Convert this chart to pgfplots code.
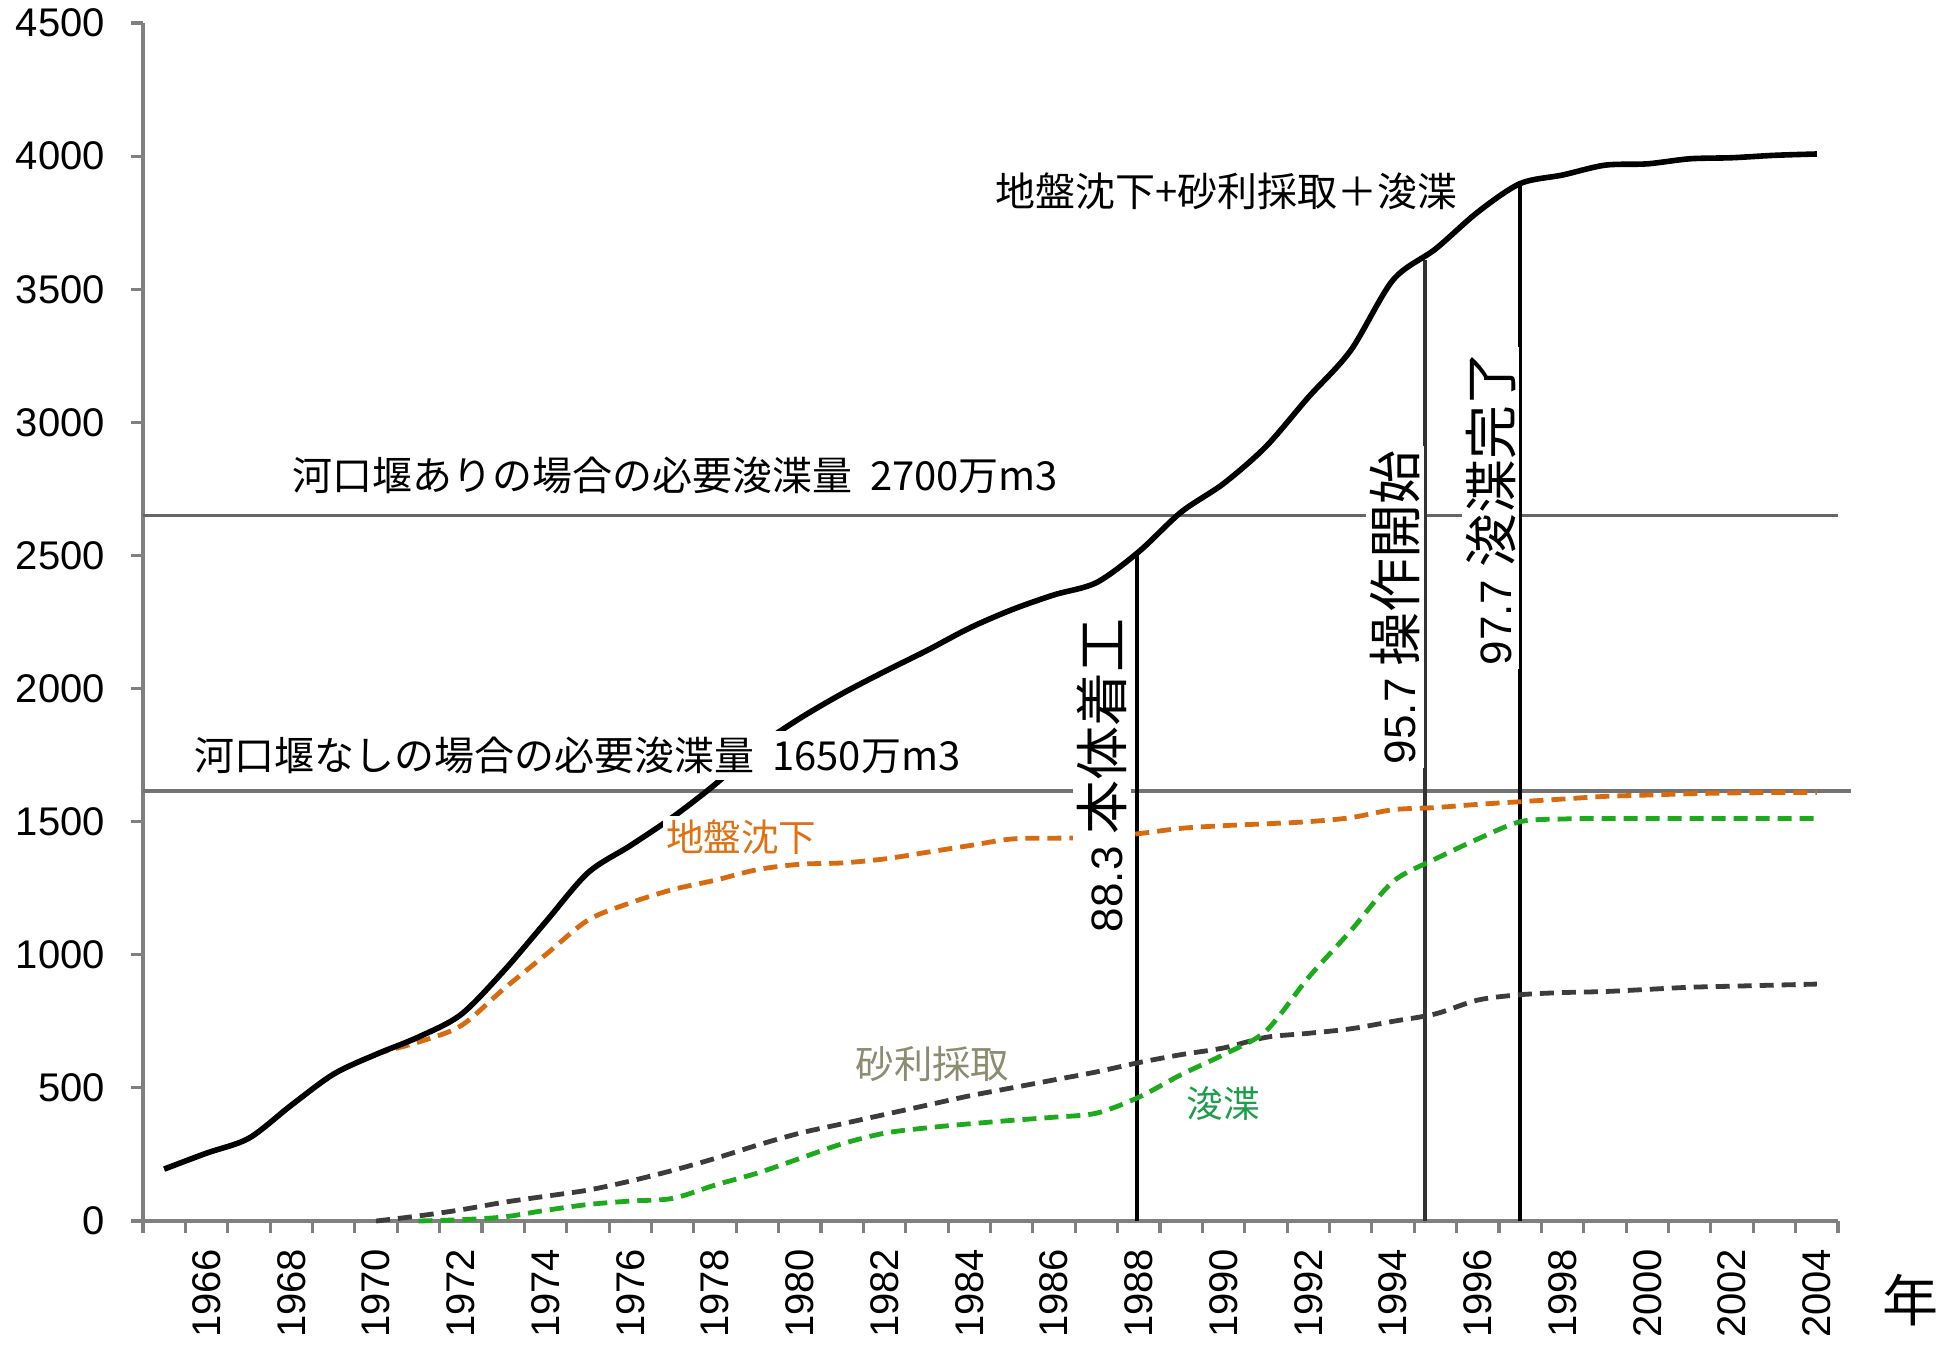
\documentclass[border=0pt]{standalone}
\usepackage{fontspec}
\setmainfont{Liberation Sans}
\newfontfamily\jp{Noto Sans CJK JP}
\usepackage{pgfplots}
\pgfplotsset{compat=1.18}
\usepackage{pgfplotstable}

\definecolor{subs}{HTML}{D86A10}
\definecolor{grav}{HTML}{3C3C3C}
\definecolor{dredg}{HTML}{1DAA1D}
\definecolor{subslab}{HTML}{E07010}
\definecolor{gravlab}{HTML}{8C8C70}
\definecolor{dredlab}{HTML}{1E9E4A}

% total: subsidence + gravel + dredging
\pgfplotstableread{
year total
1965 195
1966 255
1967 311
1968 435
1969 552
1970 626
1971 691
1972 775
1973 937
1974 1123
1975 1308
1976 1410
1977 1517
1978 1640
1979 1780
1980 1888
1981 1981
1982 2064
1983 2143
1984 2227
1985 2296
1986 2352
1987 2398
1988 2514
1989 2663
1990 2770
1991 2909
1992 3094
1993 3270
1994 3535
1995 3651
1996 3790
1997 3897
1998 3929
1999 3966
2000 3971
2001 3990
2002 3994
2003 4003
2004 4008
}\totaltab

\pgfplotstableread{
year subs
1965 195
1966 255
1967 311
1968 435
1969 552
1970 626
1971 672
1972 733
1973 870
1974 1000
1975 1130
1976 1195
1977 1245
1978 1280
1979 1320
1980 1340
1981 1345
1982 1360
1983 1385
1984 1410
1985 1435
1986 1438
1987 1440
1988 1455
1989 1475
1990 1485
1991 1492
1992 1500
1993 1515
1994 1545
1995 1553
1996 1565
1997 1575
1998 1585
1999 1595
2000 1600
2001 1605
2002 1608
2003 1610
2004 1610
}\substab

\pgfplotstableread{
year grav
1970 0
1971 19
1972 42
1973 70
1974 93
1975 116
1976 150
1977 190
1978 235
1979 285
1980 330
1981 365
1982 400
1983 435
1984 470
1985 500
1986 530
1987 560
1988 595
1989 625
1990 650
1991 690
1992 705
1993 722
1994 750
1995 778
1996 830
1997 850
1998 858
1999 862
2000 870
2001 878
2002 882
2003 886
2004 890
}\gravtab

\pgfplotstableread{
year dred
1971 0
1972 5
1973 15
1974 40
1975 62
1976 75
1977 85
1978 135
1979 180
1980 235
1981 290
1982 330
1983 350
1984 365
1985 378
1986 390
1987 405
1988 465
1989 550
1990 625
1991 714
1992 914
1993 1090
1994 1275
1995 1360
1996 1435
1997 1500
1998 1510
1999 1512
2000 1512
2001 1512
2002 1512
2003 1512
2004 1512
}\dredtab

\begin{document}
\begin{tikzpicture}
\begin{axis}[
  scale only axis, width=423.75pt, height=299.5pt,
  at={(0,0)}, anchor=south west,
  xmin=1964.5, xmax=2004.5, ymin=0, ymax=4500,
  clip=false,
  axis lines=left,
  axis line style={-, draw=black!50, line width=0.9pt},
  xtick={1966,1968,...,2004},
  minor xtick={1964.5,1965.5,...,2004.5},
  ytick={0,500,...,4500},
  minor ytick={0,500,...,4500},
  major tick length=0pt, minor tick length=3pt,
  tick align=outside,
  minor tick style={draw=black!50, line width=0.8pt},
  /pgf/number format/assume math mode=true,
  /pgf/number format/1000 sep={},
  tick label style={font=\fontsize{10}{10}\selectfont},
  xticklabel style={rotate=90, anchor=east, xshift=-3.4pt},
  yticklabel style={xshift=-6pt},
]
% reference levels
\addplot[black!60, line width=0.8pt] coordinates {(1964.5,2650) (2004.5,2650)};
\addplot[black!55, line width=1.1pt] coordinates {(1964.5,1615) (2004.8,1615)};
% milestones
\addplot[black, line width=0.9pt] coordinates {(1987.95,0) (1987.95,2514)};
\addplot[black!80, line width=0.9pt] coordinates {(1994.75,0) (1994.75,3610)};
\addplot[black, line width=0.9pt] coordinates {(1997.0,0) (1997.0,3897)};

\addplot[subs, line width=1.2pt, dash pattern=on 3.5pt off 2pt, smooth] table[x=year, y=subs] {\substab};
\addplot[grav, line width=1.2pt, dash pattern=on 3.5pt off 2pt, smooth] table[x=year, y=grav] {\gravtab};
\addplot[dredg, line width=1.2pt, dash pattern=on 3.5pt off 2pt, smooth] table[x=year, y=dred] {\dredtab};
\addplot[black, line width=1.4pt, smooth] table[x=year, y=total] {\totaltab};

% labels
\node[anchor=west, inner sep=0pt, font=\jp\fontsize{10}{10}\selectfont] at (axis cs:1984.6,3869) {地盤沈下+砂利採取＋浚渫};
\node[anchor=west, inner sep=0pt, font=\jp\fontsize{10}{10}\selectfont] at (axis cs:1968.0,2802) {河口堰ありの場合の必要浚渫量\ \ 2700万m3};
\node[anchor=west, fill=white, inner sep=1.5pt, font=\jp\fontsize{10}{10}\selectfont] at (axis cs:1965.55,1749) {河口堰なしの場合の必要浚渫量\ \ 1650万m3};
\node[anchor=west, fill=white, inner sep=0.8pt, text=subslab, font=\jp\fontsize{9.4}{9.4}\selectfont] at (axis cs:1976.75,1443) {地盤沈下};
\node[anchor=west, inner sep=0pt, text=gravlab, font=\jp\fontsize{9.6}{9.6}\selectfont] at (axis cs:1981.3,589) {砂利採取};
\node[anchor=west, inner sep=0pt, text=dredlab, font=\jp\fontsize{9.2}{9.2}\selectfont] at (axis cs:1989.1,441) {浚渫};

\node[rotate=90, fill=white, inner sep=1pt] at (axis cs:1987.14,1675) {\fontsize{11}{11}\selectfont 88.3 {\jp\fontsize{13.5}{13.5}\selectfont 本体着工}};
\node[rotate=90, fill=white, inner sep=1pt] at (axis cs:1994.05,2306) {\fontsize{11}{11}\selectfont 95.7 {\jp\fontsize{13.5}{13.5}\selectfont 操作開始}};
\node[rotate=90, fill=white, inner sep=1pt] at (axis cs:1996.30,2677) {\fontsize{11}{11}\selectfont 97.7 {\jp\fontsize{13.5}{13.5}\selectfont 浚渫完了}};
\end{axis}
\node at (441.75pt,-19.75pt) {\jp\fontsize{14}{14}\selectfont 年};
\pgfresetboundingbox
\useasboundingbox (-35.75pt,-32.25pt) rectangle (448.5pt,305.25pt);
\end{tikzpicture}
\end{document}
